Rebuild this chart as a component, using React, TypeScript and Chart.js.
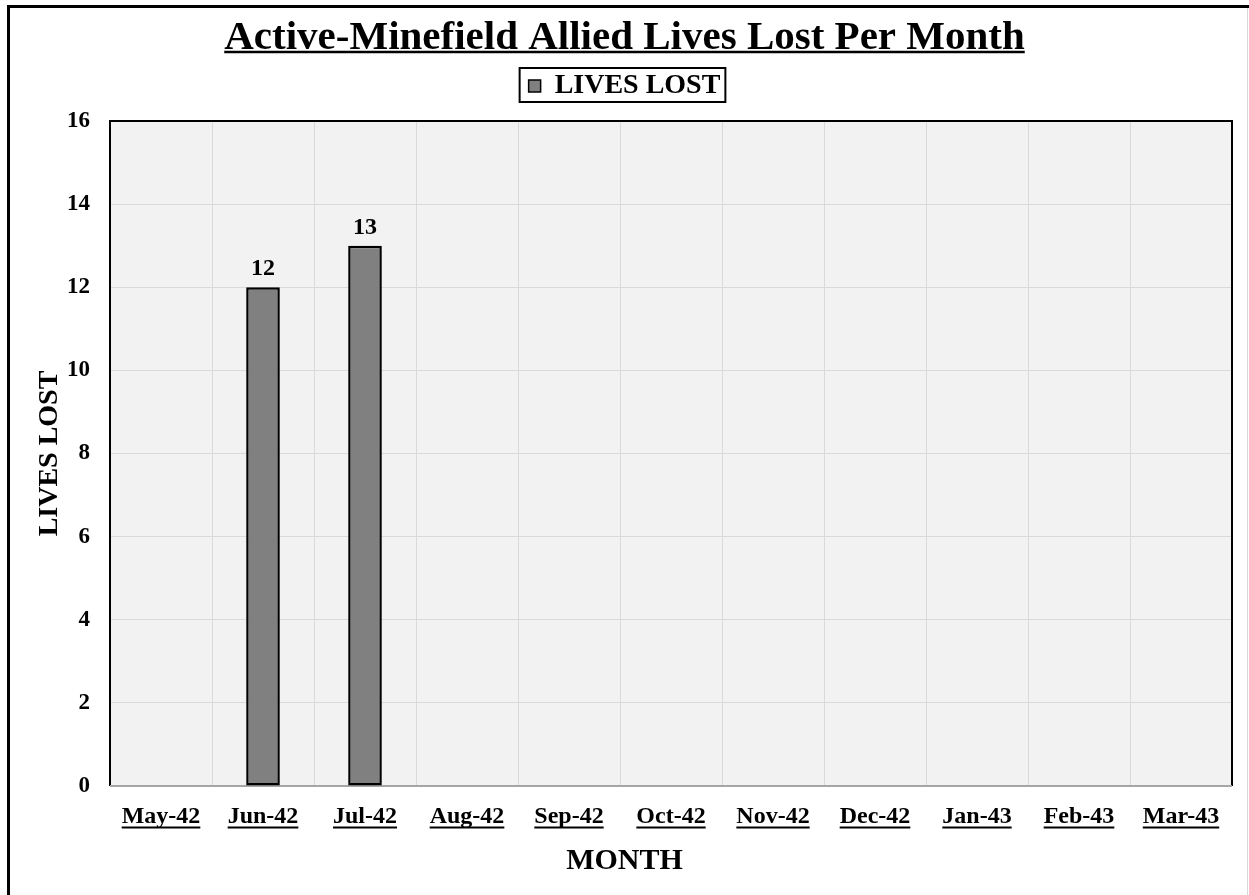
import React, { useEffect, useRef } from "react";
import { Chart, registerables } from "chart.js";

Chart.register(...registerables);

const months = ["May-42", "Jun-42", "Jul-42", "Aug-42", "Sep-42", "Oct-42", "Nov-42", "Dec-42", "Jan-43", "Feb-43", "Mar-43"];
const livesLost = [0, 12, 13, 0, 0, 0, 0, 0, 0, 0, 0];
const seriesName = "LIVES LOST";
const chartTitle = "Active-Minefield Allied Lives Lost Per Month";
const xTitle = "MONTH";
const yTitle = "LIVES LOST";
const yMax = 16;
const yStep = 2;

const FONT = "'Liberation Serif', 'Times New Roman', serif";
const TITLE_SIZE = 41;
const TITLE_PAD_TOP = 14;
const TICK_SIZE = 24;
const TICK_PAD = 16;

const decorPlugin = {
  id: "decor",
  beforeDraw(chart: any) {
    const { ctx, width, height } = chart;
    ctx.save();
    ctx.fillStyle = "#ffffff";
    ctx.fillRect(0, 0, width, height);
    ctx.fillStyle = "#000000";
    ctx.fillRect(7, 5, width - 7, 3);
    ctx.fillRect(7, 5, 3, height - 5);
    ctx.fillStyle = "#d8d8d8";
    ctx.fillRect(width - 2, 8, 1, height - 8);
    const a = chart.chartArea;
    ctx.fillStyle = "#f2f2f2";
    ctx.fillRect(a.left, a.top, a.right - a.left, a.bottom - a.top);
    ctx.restore();
  },
  beforeDatasetsDraw(chart: any) {
    const { ctx } = chart;
    const a = chart.chartArea;
    ctx.save();
    ctx.strokeStyle = "#000000";
    ctx.lineWidth = 2;
    ctx.beginPath();
    ctx.moveTo(a.left, a.bottom);
    ctx.lineTo(a.left, a.top);
    ctx.lineTo(a.right, a.top);
    ctx.lineTo(a.right, a.bottom);
    ctx.stroke();
    ctx.strokeStyle = "#a6a6a6";
    ctx.beginPath();
    ctx.moveTo(a.left, a.bottom);
    ctx.lineTo(a.right, a.bottom);
    ctx.stroke();
    ctx.restore();
  },
  afterDatasetsDraw(chart: any) {
    const { ctx } = chart;
    const meta = chart.getDatasetMeta(0);
    ctx.save();
    ctx.fillStyle = "#000000";
    ctx.font = `bold 24px ${FONT}`;
    ctx.textAlign = "center";
    ctx.textBaseline = "middle";
    meta.data.forEach((bar: any, i: number) => {
      const v = livesLost[i];
      if (!v) return;
      ctx.fillText(String(v), bar.x, bar.y - 18);
    });
    ctx.restore();
  },
  afterDraw(chart: any) {
    const { ctx, width } = chart;
    ctx.save();
    ctx.strokeStyle = "#000000";
    ctx.fillStyle = "#000000";
    // title underline
    const tb = chart.titleBlock;
    ctx.font = `bold ${TITLE_SIZE}px ${FONT}`;
    const tw = ctx.measureText(chartTitle).width;
    const tcx = (tb.left + tb.right) / 2;
    ctx.lineWidth = 2.5;
    ctx.beginPath();
    const ty = tb.top + TITLE_PAD_TOP + 24 + 14;
    ctx.moveTo(tcx - tw / 2, ty);
    ctx.lineTo(tcx + tw / 2, ty);
    ctx.stroke();
    // legend border
    const hb = chart.legend.legendHitBoxes[0];
    if (hb) {
      ctx.lineWidth = 2;
      ctx.strokeRect(hb.left - 9, hb.top - 4, hb.width + 14, hb.height + 6);
    }
    // x tick underline
    const xs = chart.scales.x;
    ctx.font = `bold ${TICK_SIZE}px ${FONT}`;
    ctx.lineWidth = 2;
    months.forEach((m, i) => {
      const x = xs.getPixelForTick(i);
      const w = ctx.measureText(m).width;
      const y = xs.top + TICK_PAD + TICK_SIZE * 0.6 + 11;
      ctx.beginPath();
      ctx.moveTo(x - w / 2, y);
      ctx.lineTo(x + w / 2, y);
      ctx.stroke();
    });
    // x axis title, centred on the whole chart
    ctx.font = `bold 30px ${FONT}`;
    ctx.textAlign = "center";
    ctx.textBaseline = "middle";
    ctx.fillText(xTitle, width / 2, 861);
    ctx.restore();
  },
};

export default function App() {
  const ref = useRef<HTMLCanvasElement | null>(null);
  useEffect(() => {
    document.body.style.margin = "0";
    const canvas = ref.current!;
    const chart = new Chart(canvas, {
      type: "bar",
      data: {
        labels: months,
        datasets: [
          {
            label: seriesName,
            data: livesLost,
            backgroundColor: "#808080",
            borderColor: "#000000",
            borderWidth: (c: any) => (c.raw ? 2.5 : 0),
            borderSkipped: false,
            barPercentage: 0.33,
            categoryPercentage: 1,
          },
        ],
      },
      options: {
        responsive: false,
        animation: false,
        devicePixelRatio: 1,
        layout: { padding: 0 },
        plugins: {
          title: {
            display: true,
            text: chartTitle,
            color: "#000000",
            font: { family: FONT, size: TITLE_SIZE, weight: "bold", lineHeight: 48 / TITLE_SIZE },
            padding: { top: TITLE_PAD_TOP, bottom: 2 },
          },
          legend: {
            display: true,
            labels: {
              color: "#000000",
              font: { family: FONT, size: 28, weight: "bold" },
              boxWidth: 12,
              boxHeight: 12,
              padding: 8,
              generateLabels: () => [
                {
                  text: seriesName,
                  fillStyle: "#808080",
                  strokeStyle: "#000000",
                  lineWidth: 1.5,
                  hidden: false,
                  datasetIndex: 0,
                },
              ],
            },
          },
          tooltip: { enabled: false },
        },
        scales: {
          x: {
            grid: { color: "#d9d9d9", lineWidth: 1, drawTicks: false, offset: true },
            border: { display: false },
            ticks: {
              color: "#000000",
              font: { family: FONT, size: TICK_SIZE, weight: "bold" },
              padding: TICK_PAD,
              maxRotation: 0,
              autoSkip: false,
            },
            title: { display: false, text: xTitle },
            afterFit: (s: any) => {
              s.height = 109;
            },
          },
          xTop: {
            type: "category",
            position: "top",
            display: true,
            grid: { display: false },
            border: { display: false },
            ticks: { display: false },
            afterFit: (s: any) => {
              s.height = 11;
            },
          },
          y: {
            min: 0,
            max: yMax,
            grid: { color: "#d9d9d9", lineWidth: 1, drawTicks: false },
            border: { display: false },
            ticks: {
              stepSize: yStep,
              color: "#000000",
              font: { family: FONT, size: 23, weight: "bold" },
              padding: 20,
            },
            title: {
              display: true,
              text: yTitle,
              color: "#000000",
              font: { family: FONT, size: 28, weight: "bold" },
              padding: { top: 33, bottom: 0 },
            },
            afterFit: (s: any) => {
              s.width = 110;
            },
          },
          yRight: {
            type: "linear",
            position: "right",
            display: true,
            grid: { display: false },
            border: { display: false },
            ticks: { display: false },
            afterFit: (s: any) => {
              s.width = 17;
            },
          },
        },
      },
      plugins: [decorPlugin],
    });
    return () => chart.destroy();
  }, []);
  return <canvas ref={ref} width={1249} height={895} style={{ display: "block" }} />;
}
